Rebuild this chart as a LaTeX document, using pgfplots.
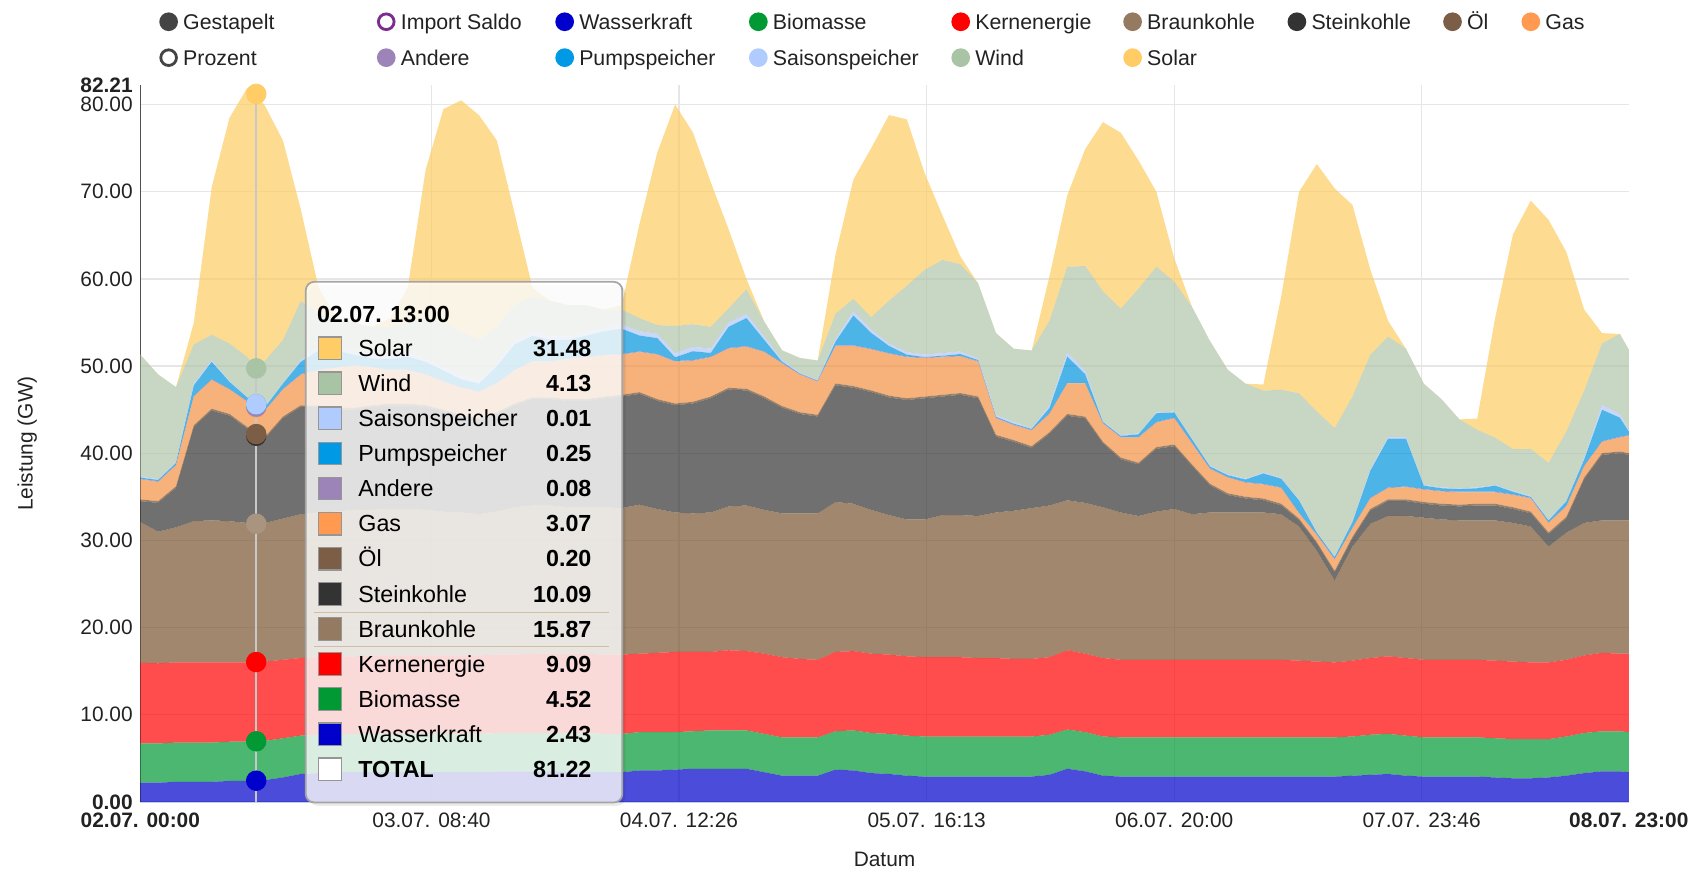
\documentclass[border=0pt]{standalone}
\usepackage{pgfplots}
\pgfplotsset{compat=1.18}
\usepackage{pgfplotstable}
\usepackage{fontspec}
\setmainfont{Liberation Sans}

\pgfplotstableread{
h W Bi K Br St Oel G A P S Wi So
0 2.2 4.5 9.25 16.15 2.4 0.2 2.3 0.08 0.12 0.1 14.0 0
2 2.2 4.5 9.2 15.1 3.3 0.2 2.2 0.08 0.15 0.1 12.0 0
4 2.3 4.5 9.2 15.5 4.5 0.2 2.4 0.08 0.2 0.1 8.6 0
6 2.3 4.5 9.2 16.2 10.8 0.2 3.3 0.08 1.2 0.2 4.5 2.5
8 2.3 4.5 9.2 16.3 12.6 0.2 3.3 0.08 2.0 0.2 2.9 16.9
10 2.4 4.5 9.1 16.2 12.1 0.2 2.8 0.08 0.8 0.1 4.3 25.9
12 2.4 4.5 9.1 16.0 10.8 0.2 2.9 0.08 0.4 0.05 4.6 30.9
13 2.43 4.52 9.09 15.87 10.09 0.20 3.07 0.08 0.25 0.01 4.13 31.48
14 2.5 4.5 9.1 15.9 9.7 0.2 3.0 0.08 0.3 0.05 5.3 29.2
16 2.8 4.5 9.0 16.2 11.5 0.2 3.1 0.08 0.6 0.1 4.9 22.9
18 3.2 4.4 8.9 16.5 12.3 0.2 3.5 0.08 1.4 0.2 6.8 10.5
20 3.3 4.4 8.9 16.6 12.1 0.2 4.0 0.08 2.2 0.5 3.7 3.0
22 3.4 4.4 8.9 16.6 11.7 0.2 4.6 0.08 1.9 0.5 3.2 0
24 3.4 4.4 8.9 16.8 11.5 0.2 4.8 0.08 1.2 0.5 3.2 0
26 3.4 4.4 9.0 16.7 11.8 0.2 4.3 0.08 1.0 0.5 3.1 0
28 3.4 4.4 9.0 16.8 11.9 0.2 3.8 0.08 1.2 0.5 3.2 1.0
30 3.4 4.4 9.0 16.8 11.9 0.2 3.8 0.08 1.5 0.5 3.4 4.0
32 3.4 4.4 9.0 16.7 11.8 0.2 3.5 0.08 1.4 0.5 4.5 17.0
34 3.4 4.4 9.0 16.5 11.5 0.2 3.2 0.08 1.2 0.4 5.1 24.5
36 3.4 4.4 9.0 16.4 11.0 0.2 3.1 0.08 0.9 0.4 5.1 26.5
38 3.4 4.4 9.0 16.2 10.8 0.2 3.0 0.08 0.9 0.4 4.6 25.8
40 3.5 4.4 9.0 16.4 11.2 0.2 3.3 0.08 1.9 0.4 4.1 21.4
42 3.5 4.4 9.0 16.9 11.7 0.2 3.8 0.08 2.9 0.4 4.1 10.5
44 3.5 4.4 9.1 17.0 12.2 0.2 4.1 0.08 2.9 0.4 4.1 1.0
46 3.5 4.4 9.1 17.0 12.2 0.2 4.1 0.08 2.4 0.4 4.1 0
48 3.5 4.4 9.1 16.8 12.2 0.2 4.6 0.08 2.1 0.4 3.6 0
50 3.5 4.4 9.1 16.8 12.2 0.2 4.8 0.08 2.4 0.4 3.1 0
52 3.4 4.4 9.1 16.9 12.5 0.2 4.7 0.08 2.7 0.4 2.1 0
54 3.4 4.4 9.1 16.8 12.8 0.2 4.6 0.08 2.9 0.5 1.7 0.5
56 3.6 4.4 9.0 17.1 12.7 0.2 4.6 0.08 1.82 0.5 1.5 10.8
58 3.6 4.4 9.1 16.5 12.4 0.2 5.1 0.08 1.82 0.5 1.0 19.8
60 3.7 4.3 9.2 16.0 12.3 0.2 4.8 0.08 0.42 0.5 3.1 25.4
62 3.8 4.3 9.1 15.9 12.6 0.2 4.7 0.08 1.02 0.5 2.6 22.0
64 3.8 4.4 9.0 16.0 13.1 0.2 4.5 0.08 0.42 0.5 2.5 16.6
66 3.8 4.4 9.2 16.5 13.4 0.2 4.5 0.08 2.42 0.5 1.6 9.1
68 3.8 4.4 9.1 16.7 13.2 0.2 4.8 0.08 3.22 0.5 2.8 1.2
70 3.4 4.4 9.2 16.5 12.8 0.2 5.1 0.08 1.32 0.4 1.7 0
72 3.0 4.4 9.2 16.5 12.1 0.2 4.9 0.08 0.12 0.2 1.1 0
74 3.0 4.4 9.0 16.7 11.4 0.2 4.3 0.08 0.05 0.1 1.7 0
76 3.0 4.4 8.9 16.8 11.1 0.2 3.8 0.08 0.05 0.1 2.2 0
78 3.7 4.4 9.1 17.2 13.4 0.2 4.3 0.08 0.42 0.3 2.9 6.8
80 3.6 4.6 9.1 16.9 13.3 0.2 4.6 0.08 3.42 0.5 1.4 13.7
82 3.3 4.6 9.1 16.5 13.5 0.2 4.7 0.08 1.82 0.4 1.4 19.4
84 3.2 4.6 9.1 16.0 13.5 0.2 4.8 0.08 0.82 0.3 4.9 21.3
86 3.0 4.6 9.1 15.7 13.7 0.2 4.7 0.08 0.22 0.3 7.6 19.1
88 2.9 4.6 9.1 15.8 13.9 0.2 4.4 0.08 0.05 0.3 9.7 11.1
90 2.9 4.6 9.1 16.3 13.6 0.2 4.3 0.08 0.1 0.3 10.7 5.1
92 2.9 4.6 9.1 16.3 13.8 0.2 4.2 0.08 0.2 0.3 10.0 0.9
94 2.9 4.6 9.0 16.3 13.5 0.2 4.0 0.08 0.1 0.2 8.6 0
96 2.9 4.6 9.0 16.7 8.7 0.2 1.9 0.08 0.1 0.2 9.4 0
98 2.9 4.6 8.9 17.0 7.9 0.2 1.7 0.08 0.1 0.2 8.4 0
100 2.9 4.6 8.9 17.3 6.9 0.2 1.8 0.08 0.1 0.1 8.9 0
102 3.1 4.6 8.9 17.4 8.2 0.2 2.1 0.08 0.6 0.3 9.7 5.1
104 3.8 4.5 9.1 17.2 9.7 0.2 3.5 0.08 3.0 0.5 9.8 8.2
106 3.5 4.5 9.0 17.3 9.7 0.2 3.8 0.08 1.0 0.4 12.0 13.4
108 3.0 4.5 9.0 17.3 7.3 0.2 2.1 0.08 0.1 0.1 14.9 19.4
110 2.9 4.5 8.9 16.9 6.1 0.2 2.3 0.08 0.1 0.1 14.5 20.2
112 2.9 4.5 8.9 16.5 5.9 0.2 2.9 0.08 0.3 0.1 16.6 14.7
114 2.9 4.5 8.9 17.0 7.2 0.2 2.8 0.08 1.0 0.1 16.7 8.6
116 2.9 4.5 8.9 17.3 7.2 0.2 3.0 0.08 0.6 0.1 14.9 2.7
118 2.9 4.5 8.9 16.7 5.5 0.2 2.4 0.08 0.4 0.1 15.1 0
120 2.9 4.5 8.9 16.9 3.1 0.2 1.7 0.08 0.2 0.1 14.3 0
122 2.9 4.5 8.9 16.9 2.0 0.2 1.8 0.08 0.2 0.1 12.0 0
124 2.9 4.5 8.9 16.9 1.6 0.2 1.6 0.08 0.3 0.1 10.9 0
126 2.9 4.5 8.9 16.9 1.4 0.2 1.6 0.08 1.2 0.1 9.4 0.7
128 2.9 4.5 8.9 16.7 1.0 0.2 1.8 0.08 1.0 0.1 10.1 10.7
130 2.9 4.5 8.8 15.4 0.7 0.2 0.6 0.08 1.4 0.1 12.2 23.1
132 2.9 4.5 8.7 12.7 0.8 0.2 0.8 0.08 0.2 0.1 13.8 28.4
134 2.9 4.5 8.6 9.4 0.9 0.2 1.3 0.08 0.2 0.1 14.7 27.5
136 3.0 4.5 8.7 13.1 0.9 0.2 1.0 0.08 0.6 0.1 14.3 22.0
138 3.1 4.6 8.8 15.4 1.5 0.2 1.2 0.08 3.1 0.2 13.1 9.8
140 3.2 4.6 8.9 16.1 1.7 0.2 1.3 0.08 5.6 0.2 11.5 1.8
142 3.0 4.6 8.9 16.3 1.7 0.2 1.4 0.08 5.5 0.2 10.1 0
144 2.9 4.5 8.9 16.3 1.6 0.2 1.4 0.08 0.4 0.1 11.6 0
146 2.9 4.5 8.9 16.1 1.6 0.2 1.4 0.08 0.3 0.1 10.1 0
148 2.9 4.5 8.9 16.0 1.6 0.2 1.4 0.08 0.3 0.1 7.9 0
150 2.9 4.5 8.9 16.0 1.7 0.2 1.3 0.08 0.4 0.1 6.6 1.3
152 2.8 4.5 8.9 16.1 1.7 0.2 1.3 0.08 0.7 0.1 5.4 13.7
154 2.7 4.5 8.9 15.9 1.6 0.2 1.4 0.08 0.3 0.1 4.8 24.6
156 2.7 4.5 8.8 15.6 1.5 0.2 1.5 0.08 0.1 0.1 5.4 28.5
158 2.8 4.4 8.8 13.3 1.4 0.2 1.1 0.08 0.2 0.1 6.5 27.9
160 3.0 4.5 8.8 14.6 1.6 0.2 1.2 0.08 0.5 0.1 7.9 20.6
162 3.3 4.6 8.9 15.2 5.0 0.2 1.3 0.08 0.7 0.2 7.7 9.3
164 3.5 4.6 9.0 15.2 7.5 0.2 1.3 0.08 3.6 0.6 7.0 1.2
166 3.5 4.6 8.9 15.3 7.7 0.2 1.6 0.08 2.2 0.4 9.2 0
167 3.4 4.6 9.0 15.3 7.5 0.2 2.0 0.08 0.4 0.2 9.2 0
}\datatable

% area base colours (drawn at 70% opacity)
\definecolor{aW}{HTML}{0000CC}
\definecolor{aBi}{HTML}{009933}
\definecolor{aK}{HTML}{FF0000}
\definecolor{aBr}{HTML}{775430}
\definecolor{aSt}{HTML}{333333}
\definecolor{aOel}{HTML}{6E4E30}
\definecolor{aG}{HTML}{F49145}
\definecolor{aA}{HTML}{8E7CB0}
\definecolor{aP}{HTML}{0094DB}
\definecolor{aS}{HTML}{B0C6F8}
\definecolor{aWi}{HTML}{B0C4AB}
\definecolor{aSo}{HTML}{FCCD62}
% legend / symbol colours
\definecolor{lGe}{HTML}{444444}
\definecolor{lIm}{HTML}{7B2D8E}
\definecolor{lW}{HTML}{0000CC}
\definecolor{lBi}{HTML}{009933}
\definecolor{lK}{HTML}{FF0000}
\definecolor{lBr}{HTML}{937A60}
\definecolor{lBrp}{HTML}{A9957F}
\definecolor{lSt}{HTML}{333333}
\definecolor{lOel}{HTML}{7B5E45}
\definecolor{lG}{HTML}{FF9A50}
\definecolor{lA}{HTML}{9C84B8}
\definecolor{lP}{HTML}{0099E6}
\definecolor{lS}{HTML}{B0CCFF}
\definecolor{lWi}{HTML}{A8C4A4}
\definecolor{lSo}{HTML}{FFCC66}
\definecolor{gridc}{HTML}{E6E6E6}
\definecolor{sepc}{HTML}{CDBEA5}
\definecolor{txt}{HTML}{222222}

\begin{document}
\begin{tikzpicture}[font=\fontsize{9.6}{11}\selectfont, text=txt]
\useasboundingbox (-64.5pt,-31.5pt) rectangle (719.5pt,368.5pt);
\begin{axis}[
  name=ax, at={(0pt,0pt)}, anchor=south west,
  scale only axis, width=684pt, height=329.3pt,
  xmin=0, xmax=167, ymin=0, ymax=82.21,
  stack plots=y,
  axis x line*=bottom, axis y line*=left,
  axis line style={-},
  x axis line style={draw={rgb,255:red,200;green,206;blue,226}, line width=1pt},
  y axis line style={draw={rgb,255:red,80;green,80;blue,80}, line width=0.6pt},
  xmajorgrids, ymajorgrids,
  grid style={draw=gridc, line width=0.6pt},
  major tick length=0pt,
  xtick={32.667,60.433,88.217,116,143.767},
  xticklabels={03.07. 08:40,04.07. 12:26,05.07. 16:13,06.07. 20:00,07.07. 23:46},
  extra x ticks={0,167},
  extra x tick labels={\textbf{02.07. 00:00},\textbf{08.07. 23:00}},
  ytick={0,10,20,30,40,50,60,70,80},
  yticklabels={\textbf{0.00},10.00,20.00,30.00,40.00,50.00,60.00,70.00,80.00},
  extra y ticks={82.21},
  extra y tick labels={\textbf{82.21}},
  extra tick style={grid=none, major tick length=0pt},
  ticklabel style={font=\fontsize{9.6}{11}\selectfont, text=txt},
  xticklabel style={yshift=-1.5pt},
  xlabel={Datum},
  ylabel={Leistung (GW)},
  every axis x label/.style={at={(axis description cs:0.5,-0.0805)}, anchor=center, font=\fontsize{9.6}{11}\selectfont},
  every axis y label/.style={at={(axis description cs:-0.076,0.5)}, anchor=center, rotate=90, font=\fontsize{9.6}{11}\selectfont},
  clip=false,
]
\addplot[draw=none, fill=aW, fill opacity=0.7] table[x=h,y=W]{\datatable} \closedcycle;
\addplot[draw=none, fill=aBi, fill opacity=0.7] table[x=h,y=Bi]{\datatable} \closedcycle;
\addplot[draw=none, fill=aK, fill opacity=0.7] table[x=h,y=K]{\datatable} \closedcycle;
\addplot[draw=none, fill=aBr, fill opacity=0.7] table[x=h,y=Br]{\datatable} \closedcycle;
\addplot[draw=none, fill=aSt, fill opacity=0.7] table[x=h,y=St]{\datatable} \closedcycle;
\addplot[draw=none, fill=aOel, fill opacity=0.7] table[x=h,y=Oel]{\datatable} \closedcycle;
\addplot[draw=none, fill=aG, fill opacity=0.7] table[x=h,y=G]{\datatable} \closedcycle;
\addplot[draw=none, fill=aA, fill opacity=0.7] table[x=h,y=A]{\datatable} \closedcycle;
\addplot[draw=none, fill=aP, fill opacity=0.7] table[x=h,y=P]{\datatable} \closedcycle;
\addplot[draw=none, fill=aS, fill opacity=0.7] table[x=h,y=S]{\datatable} \closedcycle;
\addplot[draw=none, fill=aWi, fill opacity=0.7] table[x=h,y=Wi]{\datatable} \closedcycle;
\addplot[draw=none, fill=aSo, fill opacity=0.7] table[x=h,y=So]{\datatable} \closedcycle;
\end{axis}

% hover line and markers at 02.07. 13:00
\begin{axis}[
  at={(0pt,0pt)}, anchor=south west,
  scale only axis, width=684pt, height=329.3pt,
  xmin=0, xmax=167, ymin=0, ymax=82.21,
  hide axis, clip=false,
]
\addplot[draw={rgb,255:red,200;green,200;blue,200}, line width=1pt] coordinates {(13,0) (13,82.21)};
\addplot[only marks, mark=*, mark size=4.5pt, color=lW] coordinates {(13,2.43)};
\addplot[only marks, mark=*, mark size=4.5pt, color=lBi] coordinates {(13,6.95)};
\addplot[only marks, mark=*, mark size=4.5pt, color=lK] coordinates {(13,16.04)};
\addplot[only marks, mark=*, mark size=4.5pt, color=lBrp] coordinates {(13,31.91)};
\addplot[only marks, mark=*, mark size=4.5pt, color=lSt] coordinates {(13,42.0)};
\addplot[only marks, mark=*, mark size=4.5pt, color=lOel] coordinates {(13,42.2)};
\addplot[only marks, mark=*, mark size=4.5pt, color=lG] coordinates {(13,45.27)};
\addplot[only marks, mark=*, mark size=4.5pt, color=lA] coordinates {(13,45.35)};
\addplot[only marks, mark=*, mark size=4.5pt, color=lP] coordinates {(13,45.6)};
\addplot[only marks, mark=*, mark size=4.5pt, color=lS] coordinates {(13,45.61)};
\addplot[only marks, mark=*, mark size=4.5pt, color=lWi] coordinates {(13,49.74)};
\addplot[only marks, mark=*, mark size=4.5pt, color=lSo] coordinates {(13,81.22)};
\end{axis}

% legend
\begin{scope}[every node/.style={anchor=base west, inner sep=0pt, font=\fontsize{9.8}{11}\selectfont, text=txt}]
\fill[lGe] (13pt,358.5pt) circle (4.3pt);  \node at (19.5pt,355pt) {Gestapelt};
\draw[lIm, line width=1.3pt] (113pt,358.5pt) circle (3.6pt); \node at (119.5pt,355pt) {Import Saldo};
\fill[lW] (195pt,358.5pt) circle (4.3pt);  \node at (201.5pt,355pt) {Wasserkraft};
\fill[lBi] (284pt,358.5pt) circle (4.3pt); \node at (290.5pt,355pt) {Biomasse};
\fill[lK] (377pt,358.5pt) circle (4.3pt);  \node at (383.5pt,355pt) {Kernenergie};
\fill[lBr] (456pt,358.5pt) circle (4.3pt); \node at (462.5pt,355pt) {Braunkohle};
\fill[lSt] (531.5pt,358.5pt) circle (4.3pt); \node at (538pt,355pt) {Steinkohle};
\fill[lOel] (603pt,358.5pt) circle (4.3pt); \node at (609.5pt,355pt) {Öl};
\fill[lG] (639pt,358.5pt) circle (4.3pt);  \node at (645.5pt,355pt) {Gas};
\draw[lGe, line width=1.3pt] (13pt,342pt) circle (3.6pt); \node at (19.5pt,338.5pt) {Prozent};
\fill[lA] (113pt,342pt) circle (4.3pt);  \node at (119.5pt,338.5pt) {Andere};
\fill[lP] (195pt,342pt) circle (4.3pt);  \node at (201.5pt,338.5pt) {Pumpspeicher};
\fill[lS] (284pt,342pt) circle (4.3pt);  \node at (290.5pt,338.5pt) {Saisonspeicher};
\fill[lWi] (377pt,342pt) circle (4.3pt); \node at (383.5pt,338.5pt) {Wind};
\fill[lSo] (456pt,342pt) circle (4.3pt); \node at (462.5pt,338.5pt) {Solar};
\end{scope}

% tooltip
\fill[black, opacity=0.08, rounded corners=4pt] (77.5pt,-1.8pt) rectangle (223pt,237.5pt);
\draw[rounded corners=4pt, draw={rgb,255:red,165;green,165;blue,165}, line width=0.8pt, fill=white, fill opacity=0.8] (76pt,-0.3pt) rectangle (221.5pt,239pt);
\begin{scope}[every node/.style={inner sep=0pt, font=\fontsize{10.7}{12}\selectfont, text=black}]
\node[anchor=base west, font=\fontsize{10.7}{12}\selectfont\bfseries] at (81pt,220.2pt) {02.07. 13:00};
\draw[sepc, line width=0.7pt] (80pt,87pt) -- (215.5pt,87pt);
\draw[sepc, line width=0.7pt] (80pt,71.5pt) -- (215.5pt,71.5pt);
\foreach \y/\c/\n/\v [count=\i] in {
  208.5/lSo/Solar/31.48,
  192.4/lWi/Wind/4.13,
  176.3/lS/Saisonspeicher/0.01,
  160.1/lP/Pumpspeicher/0.25,
  144.0/lA/Andere/0.08,
  127.9/lG/Gas/3.07,
  111.75/lOel/Öl/0.20,
  95.6/lSt/Steinkohle/10.09,
  79.5/lBr/Braunkohle/15.87,
  63.4/lK/Kernenergie/9.09,
  47.25/lBi/Biomasse/4.52,
  31.1/lW/Wasserkraft/2.43}{
  \draw[draw={rgb,255:red,150;green,150;blue,150}, line width=0.6pt, fill=\c] (82pt,\y pt-5.2pt) rectangle (92.5pt,\y pt+5.2pt);
  \node[anchor=base west] at (100pt,\y pt-3.8pt) {\n};
  \node[anchor=base east, font=\fontsize{10.7}{12}\selectfont\bfseries] at (207.5pt,\y pt-3.8pt) {\v};
}
\draw[draw={rgb,255:red,150;green,150;blue,150}, line width=0.6pt, fill=white] (82pt,9.8pt) rectangle (92.5pt,20.2pt);
\node[anchor=base west, font=\fontsize{10.7}{12}\selectfont\bfseries] at (100pt,11.2pt) {TOTAL};
\node[anchor=base east, font=\fontsize{10.7}{12}\selectfont\bfseries] at (207.5pt,11.2pt) {81.22};
\end{scope}
\end{tikzpicture}
\end{document}
